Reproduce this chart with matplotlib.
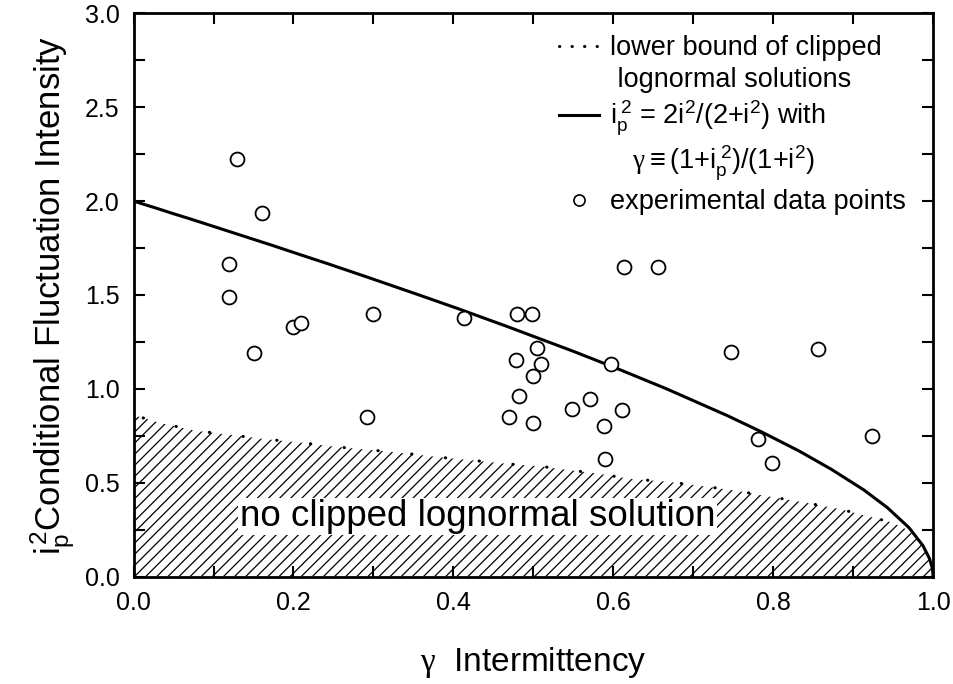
import matplotlib

matplotlib.use("Agg")
import matplotlib.pyplot as plt
from matplotlib.lines import Line2D
from matplotlib.ticker import MultipleLocator, FormatStrFormatter

plt.rcParams["font.family"] = ["Liberation Sans", "DejaVu Sans"]
plt.rcParams["mathtext.fontset"] = "custom"
plt.rcParams["mathtext.rm"] = "Liberation Sans"
plt.rcParams["mathtext.it"] = "Liberation Sans"
plt.rcParams["mathtext.sf"] = "Liberation Serif"
plt.rcParams["hatch.linewidth"] = 0.9

# experimental data points (gamma, i_p^2)
gamma_exp = [0.129, 0.161, 0.120, 0.120, 0.151, 0.200, 0.209, 0.299, 0.413, 0.480,
             0.498, 0.505, 0.478, 0.510, 0.500, 0.482, 0.470, 0.500, 0.292, 0.613,
             0.656, 0.747, 0.856, 0.597, 0.571, 0.549, 0.611, 0.589, 0.590, 0.781,
             0.799, 0.924]
ip2_exp = [2.222, 1.935, 1.667, 1.491, 1.193, 1.328, 1.351, 1.397, 1.376, 1.399,
           1.399, 1.216, 1.154, 1.131, 1.069, 0.964, 0.852, 0.817, 0.852, 1.647,
           1.647, 1.196, 1.214, 1.131, 0.948, 0.891, 0.886, 0.801, 0.625, 0.735,
           0.604, 0.749]

# theory curve i_p^2 = 2i^2/(2+i^2), gamma = (1+i_p^2)/(1+i^2)
gamma_th = [0.0, 0.0148, 0.0293, 0.0481, 0.0708, 0.0927, 0.1342, 0.1728, 0.2088,
            0.2424, 0.2889, 0.357, 0.4048, 0.4667, 0.55, 0.6032, 0.6667, 0.7429,
            0.7863, 0.8333, 0.873, 0.9135, 0.943, 0.9699, 0.9874, 0.99567,
            0.99884, 0.99957, 0.99995, 1.0]
ip2_th = [2.0, 1.980, 1.961, 1.935, 1.905, 1.875, 1.818, 1.765, 1.714, 1.667, 1.6,
          1.5, 1.4286, 1.333, 1.2, 1.111, 1.0, 0.857, 0.769, 0.667, 0.571, 0.4615,
          0.367, 0.2609, 0.165, 0.0952, 0.0488, 0.0296, 0.00995, 0.0]

# lower bound of clipped lognormal solutions
gamma_lb = [0.0, 0.012, 0.032, 0.077, 0.121, 0.165, 0.208, 0.251, 0.295, 0.339,
            0.382, 0.426, 0.469, 0.512, 0.535, 0.577, 0.622, 0.666, 0.710, 0.753,
            0.796, 0.840, 0.884, 0.928, 0.949, 0.970]
ip2_lb = [0.86, 0.845, 0.820, 0.777, 0.755, 0.732, 0.714, 0.692, 0.675, 0.657,
          0.636, 0.618, 0.600, 0.586, 0.572, 0.551, 0.520, 0.506, 0.483, 0.458,
          0.426, 0.394, 0.359, 0.311, 0.288, 0.245]

fig, ax = plt.subplots(figsize=(9.54, 6.84), dpi=100)
fig.subplots_adjust(left=0.14, right=0.978, top=0.9806, bottom=0.157)

# hatched region: below the lower bound, closed by the theory curve near gamma=1
tail = [(g, v) for g, v in zip(gamma_th, ip2_th) if g > gamma_lb[-1]]
poly_x = [0.0] + gamma_lb + [g for g, _ in tail] + [0.0]
poly_y = [0.0] + ip2_lb + [v for _, v in tail] + [0.0]
ax.fill(poly_x, poly_y, facecolor="none", edgecolor="black", hatch="///",
        linewidth=0, zorder=1)

ax.plot(gamma_lb[1:], ip2_lb[1:], color="black", linewidth=2.2,
        linestyle=(0, (0.1, 11)), dash_capstyle="round", zorder=2)
ax.plot(gamma_th, ip2_th, color="black", linewidth=2.2, zorder=3)
ax.plot(gamma_exp, ip2_exp, "o", markersize=10, markerfacecolor="white",
        markeredgecolor="black", markeredgewidth=1.3, linestyle="none", zorder=4)

ax.text(0.43, 0.32, "no clipped lognormal solution", fontsize=26.5,
        ha="center", va="center", zorder=5,
        bbox=dict(facecolor="white", edgecolor="none", pad=1))

blank = Line2D([], [], linestyle="none")
handles = [
    Line2D([], [], color="black", linewidth=2.2, linestyle=(0, (0.1, 4)),
           dash_capstyle="round"),
    blank,
    Line2D([], [], color="black", linewidth=2.2),
    blank,
    Line2D([], [], marker="o", markersize=8, markerfacecolor="white",
           markeredgecolor="black", markeredgewidth=1.2, linestyle="none"),
]
labels = [
    "lower bound of clipped",
    " lognormal solutions",
    "$i_p^{\\,2}$ = 2i$^2$/(2+i$^2$) with",
    "   $\\mathsf{\\gamma}\\equiv$(1+$i_p^{\\,2}$)/(1+i$^2$)",
    "experimental data points",
]
ax.legend(handles, labels, loc="upper right", frameon=False, fontsize=19.5,
          handlelength=1.5, handletextpad=0.4, labelspacing=0.22,
          borderaxespad=0.0, bbox_to_anchor=(0.98, 0.98))

ax.set_xlim(0, 1.0)
ax.set_ylim(0, 3.0)
ax.xaxis.set_major_locator(MultipleLocator(0.2))
ax.xaxis.set_minor_locator(MultipleLocator(0.1))
ax.yaxis.set_major_locator(MultipleLocator(0.5))
ax.yaxis.set_minor_locator(MultipleLocator(0.25))
ax.xaxis.set_major_formatter(FormatStrFormatter("%.1f"))
ax.yaxis.set_major_formatter(FormatStrFormatter("%.1f"))
ax.tick_params(which="both", direction="in", top=True, right=True,
               length=8, width=1.5, labelsize=18, pad=10)
for s in ax.spines.values():
    s.set_linewidth(2)

ax.set_xlabel("$\\mathsf{\\gamma}$  Intermittency", fontsize=24, labelpad=22)
ax.set_ylabel("$i_p^2$Conditional Fluctuation Intensity", fontsize=25, labelpad=5)

fig.savefig("out.png", dpi=100)
